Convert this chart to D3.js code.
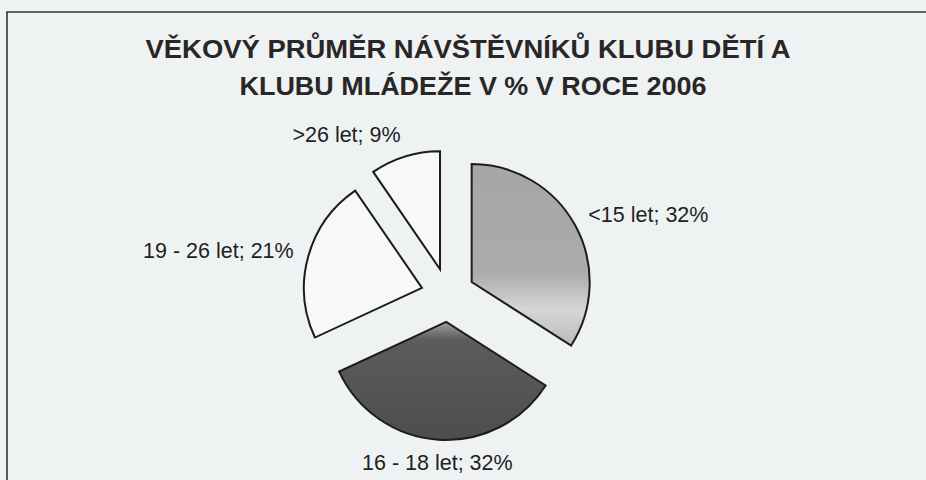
<!DOCTYPE html>
<html>
<head>
<meta charset="utf-8">
<script src="https://cdn.jsdelivr.net/npm/d3@7"></script>
<style>
  html, body { margin:0; padding:0; background:#eef2f3; overflow:hidden; }
  svg { display:block; font-family:'Liberation Sans', Arial, sans-serif; }
</style>
</head>
<body>
<div id="chart"></div>
<script>
const categories = ['<15 let', '16 - 18 let', '19 - 26 let', '>26 let'];
const values = [32, 32, 21, 9];
const titleLines = ['VĚKOVÝ PRŮMĚR NÁVŠTĚVNÍKŮ KLUBU DĚTÍ A', 'KLUBU MLÁDEŽE V % V ROCE 2006'];

const W = 926, H = 480;
const cx = 448, cy = 295, R = 118, explode = 27, labelR = 160;

const svg = d3.select('#chart').append('svg').attr('width', W).attr('height', H);
const defs = svg.append('defs');

// paper + frame
svg.append('rect').attr('width', W).attr('height', H).attr('fill', '#eef2f3');
svg.append('path')
  .attr('d', `M7,${H} L7,12 L${W},12`)
  .attr('fill', 'none').attr('stroke', '#333').attr('stroke-width', 1.6);

// title
const titleW = [645, 467];
svg.append('text')
  .attr('text-anchor', 'middle')
  .attr('font-size', 25.5).attr('font-weight', 'bold').attr('fill', '#2a2626')
  .selectAll('tspan').data(titleLines).join('tspan')
  .attr('x', (d, i) => i ? 473 : 468)
  .attr('y', (d, i) => 58 + i * 36.5)
  .attr('textLength', (d, i) => titleW[i])
  .attr('lengthAdjust', 'spacingAndGlyphs')
  .text(d => d);

// fills: light gray gradient, dark gray, white, white
const g1 = defs.append('linearGradient').attr('id', 'gLight')
  .attr('x1', 0).attr('y1', 0).attr('x2', 0).attr('y2', 1);
[[0, '#a6a6a6'], [0.6, '#ababab'], [0.8, '#d6d6d6'], [0.9, '#c9c9c9'], [1, '#b8b8b8']]
  .forEach(([o, c]) => g1.append('stop').attr('offset', o).attr('stop-color', c));
const g2 = defs.append('linearGradient').attr('id', 'gDark')
  .attr('x1', 0).attr('y1', 0).attr('x2', 0).attr('y2', 1);
[[0, '#a0a0a0'], [0.15, '#5c5c5c'], [1, '#4d4d4d']]
  .forEach(([o, c]) => g2.append('stop').attr('offset', o).attr('stop-color', c));
const fills = ['url(#gLight)', 'url(#gDark)', '#f7f9f9', '#f7f9f9'];

const pie = d3.pie().sort(null).value(d => d.v);
const arcs = pie(categories.map((c, i) => ({ c, v: values[i] })));
const arc = d3.arc().innerRadius(0).outerRadius(R);
const mid = d => (d.startAngle + d.endAngle) / 2;

const g = svg.append('g').attr('transform', `translate(${cx},${cy})`);

g.selectAll('path.slice').data(arcs).join('path')
  .attr('class', 'slice')
  .attr('d', arc)
  .attr('transform', d => `translate(${Math.sin(mid(d)) * explode},${-Math.cos(mid(d)) * explode})`)
  .attr('fill', (d, i) => fills[i])
  .attr('stroke', '#1e1b1b').attr('stroke-width', 2).attr('stroke-linejoin', 'miter');

// labels outside, anchored by side
g.selectAll('text.lbl').data(arcs).join('text')
  .attr('class', 'lbl')
  .attr('x', d => Math.sin(mid(d)) * labelR)
  .attr('y', d => -Math.cos(mid(d)) * (labelR + 8))
  .attr('dy', '0.35em')
  .attr('text-anchor', d => {
    const s = Math.sin(mid(d));
    return s > 0.25 ? 'start' : s < -0.25 ? 'end' : 'middle';
  })
  .attr('font-size', 21.5).attr('fill', '#221f1f')
  .text(d => `${d.data.c}; ${d.data.v}%`);
</script>
</body>
</html>
